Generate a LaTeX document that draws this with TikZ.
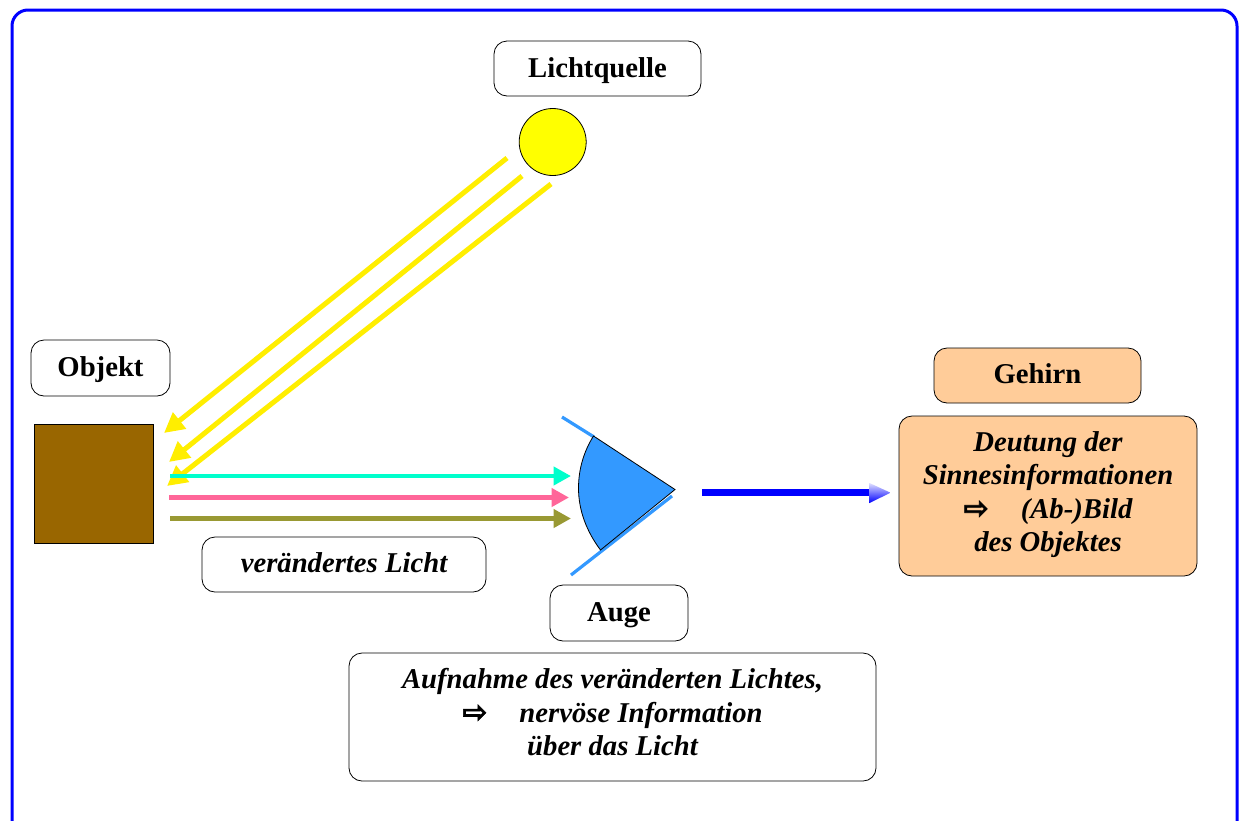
\documentclass[tikz,border=0pt]{standalone}
\usepackage{fontspec}
\setmainfont{Liberation Serif}
\newfontfamily\symfont[RawFeature={embolden=2}]{DejaVu Sans}
\usetikzlibrary{arrows.meta}
\definecolor{ybeam}{HTML}{FFEE00}
\definecolor{sunyellow}{HTML}{FFFF00}
\definecolor{cbeam}{HTML}{00FFCC}
\definecolor{pbeam}{HTML}{FF6699}
\definecolor{obeam}{HTML}{999933}
\definecolor{eyeblue}{HTML}{3399FF}
\definecolor{peach}{HTML}{FFCC99}
\definecolor{brownbox}{HTML}{996600}
\newcommand{\arr}{\smash{\symfont\fontsize{30}{30}\selectfont ⇨}}
\newcommand{\upby}[2]{\raisebox{#1}[\height][\depth]{\begin{tabular}{@{}c@{}}#2\end{tabular}}}
\tikzset{
  x=1pt,y=-1pt,
  lbl/.style={draw=black,line width=0.8pt,rounded corners=13pt,inner sep=0pt,outer sep=0pt,anchor=north west,font=\fontsize{28.7}{33.4}\selectfont\bfseries},
  lit/.style={lbl,font=\fontsize{28.7}{33.4}\selectfont\bfseries\itshape},
  ybm/.style={ybeam,line width=5pt,-{Triangle[length=20pt,width=20pt]}},
  hbm/.style={line width=4.5pt,-{Triangle[length=17.5pt,width=18pt]}},
  lid/.style={eyeblue,line width=3.2pt},
}
\begin{document}
\begin{tikzpicture}
\useasboundingbox (0,0) rectangle (1239,820);
\clip (0,0) rectangle (1239,820);
\fill[white] (0,0) rectangle (1239,820);
\draw[blue,line width=3pt,rounded corners=16pt] (12,10) rectangle (1237,850);

% labels
\node[lbl,minimum width=207pt,minimum height=55pt] (licht) at (494,41) {\upby{-2pt}{Lichtquelle}};
\node[lbl,minimum width=139pt,minimum height=56pt] (objektlabel) at (31,340) {\upby{-1.5pt}{Objekt}};
\node[lbl,fill=peach,minimum width=207pt,minimum height=55pt] (gehirn) at (934,348) {\upby{-1.5pt}{Gehirn}};
\node[lit,fill=peach,minimum width=298pt,minimum height=160pt] (deutung) at (899,416) {\upby{1pt}{Deutung der\\Sinnesinformationen\\\arr\hspace{32pt}(Ab-)Bild\\des Objektes}};
\node[lit,minimum width=284pt,minimum height=55pt] (veraendert) at (202,537) {\upby{-1pt}{verändertes Licht}};
\node[lbl,minimum width=138pt,minimum height=56pt] (auge) at (550,585) {\upby{-2pt}{Auge}};
\node[lit,minimum width=527pt,minimum height=128pt] (aufnahme) at (349,653) {\upby{1.5pt}{Aufnahme des veränderten Lichtes,\\\arr\hspace{32pt}nervöse Information\\über das Licht}};

% sun and object
\node[circle,draw=black,line width=0.8pt,fill=sunyellow,minimum size=67pt,inner sep=0pt,outer sep=0pt] (sonne) at (552.7,142) {};
\node[rectangle,draw=black,line width=0.8pt,fill=brownbox,minimum size=119.5pt,inner sep=0pt,outer sep=0pt,anchor=north west] (objekt) at (34,424) {};

% beam end points
\coordinate (y1s) at (507,158); \coordinate (y1e) at (164,433);
\coordinate (y2s) at (522,176); \coordinate (y2e) at (169,462);
\coordinate (y3s) at (551,184); \coordinate (y3e) at (167,486);
\coordinate (c1s) at (170,476); \coordinate (c1e) at (571,476);
\coordinate (p1s) at (169,497.5); \coordinate (p1e) at (569,497.5);
\coordinate (o1s) at (170,518.5); \coordinate (o1e) at (571,518.5);
\coordinate (l1a) at (562,417); \coordinate (l1b) at (594,437);
\coordinate (l2a) at (672,496); \coordinate (l2b) at (571,575);
\coordinate (na) at (702,492.7); \coordinate (nb) at (871,492.7);
\coordinate (nt) at (890.5,492.7);
\coordinate (ntop) at (869.5,483); \coordinate (nbot) at (869.5,503);

\draw[ybm] (y1s) -- (y1e);
\draw[ybm] (y2s) -- (y2e);
\draw[ybm] (y3s) -- (y3e);
\draw[hbm,cbeam] (c1s) -- (c1e);
\draw[hbm,pbeam] (p1s) -- (p1e);
\draw[hbm,obeam] (o1s) -- (o1e);

% eye
\draw[lid] (l1a) -- (l1b);
\draw[lid] (l2a) -- (l2b);
\draw[black,line width=0.8pt,fill=eyeblue] (593.5,436) -- (675,489.5) -- (600.5,550)
  .. controls (587,532) and (578.5,511) .. (578.5,488)
  .. controls (578.5,469) and (584,451) .. (593.5,436) -- cycle;

% nerve
\draw[blue,line width=6.5pt] (na) -- (nb);
\shade[top color=blue!12,bottom color=blue] (ntop) -- (nt) -- (nbot) -- cycle;
\end{tikzpicture}
\end{document}
